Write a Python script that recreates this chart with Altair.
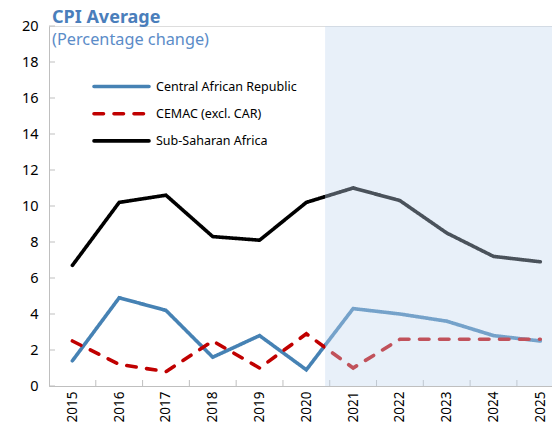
import altair as alt
import pandas as pd

years = [2015, 2016, 2017, 2018, 2019, 2020, 2021, 2022, 2023, 2024, 2025]
car = [1.4, 4.9, 4.2, 1.6, 2.8, 0.9, 4.3, 4.0, 3.6, 2.8, 2.5]
cemac = [2.5, 1.2, 0.8, 2.5, 1.0, 2.9, 1.0, 2.6, 2.6, 2.6, 2.6]
ssa = [6.7, 10.2, 10.6, 8.3, 8.1, 10.2, 11.0, 10.3, 8.5, 7.2, 6.9]
series_names = ["Central African Republic", "CEMAC (excl. CAR)", "Sub-Saharan Africa"]
series_colors = ["#4682b4", "#c00000", "#000000"]
series_dashes = [[1, 0], [9.5, 10.5], [1, 0]]
y_ticks = [0, 2, 4, 6, 8, 10, 12, 14, 16, 18, 20]
proj_start = 2020.4
x_domain = [2014.5, 2025.25]

rows = []
for name, vals in zip(series_names, [car, cemac, ssa]):
    for yr, v in zip(years, vals):
        rows.append({"year": yr, "value": v, "series": name})
df = pd.DataFrame(rows)

W, H = 503, 360
FONT = "Noto Sans"
SW = 3.6

xscale = alt.Scale(domain=x_domain, nice=False, zero=False)
yscale = alt.Scale(domain=[0, 20], nice=False)
xaxis = alt.Axis(values=years, format="d", labelAngle=-90, ticks=False,
                 labelPadding=5, title=None, grid=False, labelFontSize=13.5,
                 labelColor="#000", domainColor="#bfbfbf", labelFont=FONT,
                 labelBaseline="middle", labelAlign="right", labelOverlap=False)
yaxis = alt.Axis(values=y_ticks, ticks=False, labelPadding=11, title=None, grid=False,
                 labelFontSize=14.5, labelColor="#000", domainColor="#bfbfbf",
                 labelFont=FONT, labelOverlap=False)

lines = alt.Chart(df).mark_line(strokeWidth=SW, strokeCap="round", strokeJoin="miter").encode(
    x=alt.X("year:Q", scale=xscale, axis=xaxis),
    y=alt.Y("value:Q", scale=yscale, axis=yaxis),
    color=alt.Color("series:N", scale=alt.Scale(domain=series_names, range=series_colors),
                    legend=None),
    strokeDash=alt.StrokeDash("series:N",
                              scale=alt.Scale(domain=series_names, range=series_dashes),
                              legend=None),
)

shade_df = pd.DataFrame({"start": [proj_start], "end": [x_domain[1]]})
shade = alt.Chart(shade_df).mark_rect(color="#c3d7f0", opacity=0.38).encode(
    x=alt.X("start:Q", scale=xscale, axis=xaxis), x2="end:Q", y=alt.value(0), y2=alt.value(H)
)

ytick_df = pd.DataFrame({"v": y_ticks})
yticks = alt.Chart(ytick_df).mark_rule(color="#bfbfbf", strokeWidth=1).encode(
    y=alt.Y("v:Q", scale=yscale, axis=yaxis), x=alt.value(0), x2=alt.value(6)
)
xtick_df = pd.DataFrame({"b": [y + 0.5 for y in years[:-1]]})
xticks = alt.Chart(xtick_df).mark_rule(color="#bfbfbf", strokeWidth=1).encode(
    x=alt.X("b:Q", scale=xscale, axis=xaxis), y=alt.value(H - 6), y2=alt.value(H)
)

# legend (drawn manually, inside the plot)
legend_layers = []
for i, (name, col, dash) in enumerate(zip(series_names, series_colors, series_dashes)):
    ly = 60.5 + 27.2 * i
    ldf = pd.DataFrame({"series": [name]})
    legend_layers.append(
        alt.Chart(ldf).mark_rule(color=col, strokeWidth=SW, strokeDash=dash, strokeCap="round").encode(
            x=alt.value(45), x2=alt.value(100), y=alt.value(ly)
        )
    )
    legend_layers.append(
        alt.Chart(ldf).mark_text(align="left", baseline="middle", fontSize=12.5, color="#000",
                                 font=FONT).encode(
            text="series:N", x=alt.value(107), y=alt.value(ly)
        )
    )

title_df = pd.DataFrame({"t": ["CPI Average"]})
title = alt.Chart(title_df).mark_text(align="left", baseline="alphabetic", fontSize=18,
                                      fontWeight="bold", color="#4a7ebb", font=FONT).encode(
    text="t:N", x=alt.value(3), y=alt.value(-3)
)
sub_df = pd.DataFrame({"t": ["(Percentage change)"]})
subtitle = alt.Chart(sub_df).mark_text(align="left", baseline="alphabetic", fontSize=16.3,
                                       color="#5b8cc8", font=FONT).encode(
    text="t:N", x=alt.value(3), y=alt.value(19)
)

chart = alt.layer(lines, xticks, yticks, shade, *legend_layers, title, subtitle).properties(
    width=W, height=H,
    autosize=alt.AutoSizeParams(type="none"),
    padding={"left": 41, "top": 18, "right": 0, "bottom": 38},
).configure_view(stroke="#bfbfbf", strokeWidth=1).configure(font=FONT)

chart.save("out.html", embed_options={"renderer": "svg", "actions": False})
